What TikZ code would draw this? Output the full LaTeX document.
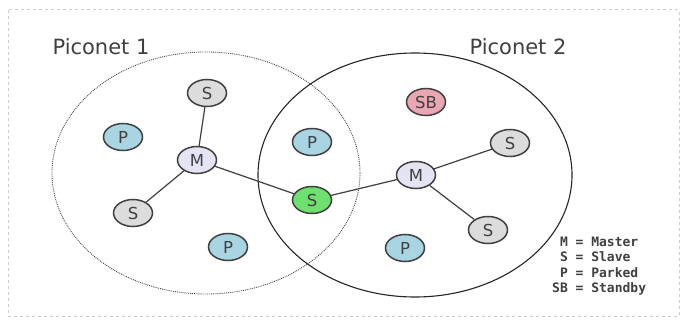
\documentclass[tikz,border=0pt]{standalone}
\usepackage{fontspec}
\setmainfont{DejaVu Sans}
\setmonofont{DejaVu Sans Mono}
\usetikzlibrary{shapes.geometric}
\definecolor{sgray}{HTML}{DCDCDC}
\definecolor{pblue}{HTML}{A9D5E2}
\definecolor{mlav}{HTML}{E4E4F4}
\definecolor{sgreen}{HTML}{6EE070}
\definecolor{sbpink}{HTML}{EBA6B4}
\definecolor{edge}{HTML}{404040}
\tikzset{
  dev/.style={ellipse, draw=edge, line width=1.5pt, minimum width=39pt, minimum height=27pt, inner sep=0pt, font=\fontsize{16.5}{17}\selectfont, text=black!75},
  link/.style={draw=edge, line width=1.2pt},
  title/.style={font=\fontsize{21}{23}\selectfont, text=black!75},
}
\begin{document}
\begin{tikzpicture}[x=1pt,y=-1pt]
\useasboundingbox (0,0) rectangle (683,326);
\fill[white] (0,0) rectangle (683,326);
\draw[black!20, line width=1pt, dashed] (8,10) rectangle (679,316);
% piconets
\draw[black!70, line width=0.9pt, densely dotted] (206,173) ellipse [x radius=154, y radius=121];
\draw[black!85, line width=1.1pt] (415,175) ellipse [x radius=157, y radius=122];
\node[title] (l1) at (101,47) {Piconet 1};
\node[title] (l2) at (518,47) {Piconet 2};
% nodes
\node[dev, fill=mlav] (m1) at (197,160) {M};
\node[dev, fill=sgray] (s1) at (207,93) {S};
\node[dev, fill=sgray] (s2) at (133,213) {S};
\node[dev, fill=pblue] (p1) at (123,137) {P};
\node[dev, fill=pblue] (p2) at (228,247) {P};
\node[dev, fill=pblue] (p3) at (312,142) {P};
\node[dev, fill=sgreen] (sg) at (312,200) {S};
\node[dev, fill=mlav] (m2) at (416,175) {M};
\node[dev, fill=sbpink] (sb) at (426,102) {SB};
\node[dev, fill=sgray] (s3) at (510,143) {S};
\node[dev, fill=sgray] (s4) at (488,230) {S};
\node[dev, fill=pblue] (p4) at (405,248) {P};
% links
\draw[link] (m1) -- (s1);
\draw[link] (m1) -- (s2);
\draw[link] (m1) -- (sg);
\draw[link] (sg) -- (m2);
\draw[link] (m2) -- (s3);
\draw[link] (m2) -- (s4);
% legend
\node[font=\ttfamily\bfseries\fontsize{13}{15.5}\selectfont, text=black!75, align=left, anchor=west, inner sep=0pt] (leg) at (552,266) {\ M = Master\\\ S = Slave\\\ P = Parked\\SB = Standby};
\end{tikzpicture}
\end{document}
